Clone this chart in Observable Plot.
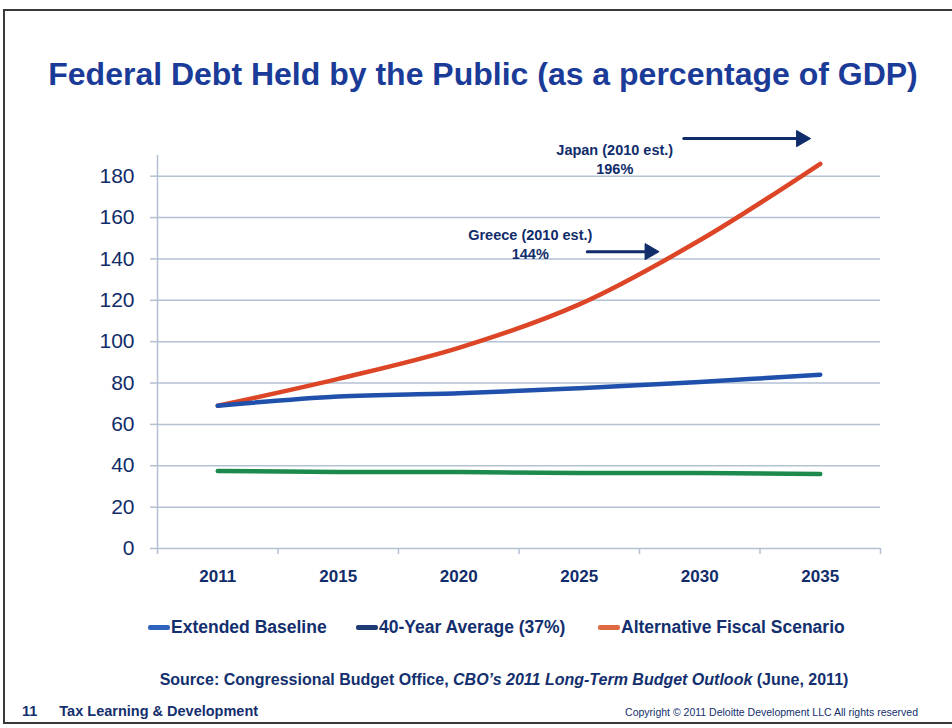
<!DOCTYPE html>
<html>
<head>
<meta charset="utf-8">
<script src="https://cdn.jsdelivr.net/npm/d3@7"></script>
<script src="https://cdn.jsdelivr.net/npm/@observablehq/plot@0.6"></script>
<style>
  body { margin: 0; background: #fff; font-family: "Liberation Sans", Arial, sans-serif; }
  #page { position: relative; width: 952px; height: 728px; overflow: hidden; background: #fff; }
  #frame { position: absolute; left: 3px; top: 9px; width: 990px; height: 711px; border: 2px solid #3a3a3a; border-right: none; }
  #title { position: absolute; top: 56px; left: 0; width: 966px; text-align: center; font-weight: bold; font-size: 32px; color: #1b3b98; white-space: nowrap; }
  #chart { position: absolute; top: 110px; left: 0; }
  #legend { position: absolute; top: 615px; left: 0; width: 952px; height: 24px; }
  .lg-item { position: absolute; top: 0; display: flex; align-items: center; height: 24px; font-weight: bold; font-size: 17.5px; color: #132f6e; white-space: nowrap; }
  .lg-sw { display: inline-block; width: 22px; height: 5px; border-radius: 2px; margin-right: 1px; }
  #source { position: absolute; top: 671px; left: 0; width: 1008px; text-align: center; font-weight: bold; font-size: 16px; color: #132f6e; white-space: nowrap; }
  #footer-left { position: absolute; top: 703px; left: 22px; font-weight: bold; font-size: 14.5px; color: #132f6e; white-space: nowrap; }
  #footer-left span { margin-right: 22px; }
  #footer-right { position: absolute; top: 706px; right: 34px; font-size: 10.5px; color: #132f6e; white-space: nowrap; }
</style>
</head>
<body>
<div id="page">
  <div id="frame"></div>
  <div id="title">Federal Debt Held by the Public (as a percentage of GDP)</div>
  <div id="chart"></div>
  <div id="legend"></div>
  <div id="source">Source: Congressional Budget Office, <i>CBO’s 2011 Long-Term Budget Outlook</i> (June, 2011)</div>
  <div id="footer-left"><span>11</span>Tax Learning &amp; Development</div>
  <div id="footer-right">Copyright © 2011 Deloitte Development LLC  All rights reserved</div>
</div>
<script>
// ---- data ----
const years = ["2011", "2015", "2020", "2025", "2030", "2035"];
const extendedBaseline = [69, 73.5, 75, 77.5, 80.5, 84];
const fortyYearAverage = [37.5, 37, 37, 36.5, 36.5, 36];
const alternativeFiscal = [69, 82, 97, 118, 149, 186];
const yTicks = [0, 20, 40, 60, 80, 100, 120, 140, 160, 180];
const seriesNames = ["Extended Baseline", "40-Year Average (37%)", "Alternative Fiscal Scenario"];
const legendColors = ["#2f63be", "#1d3a72", "#df6a42"];
const annotationLabels = ["Japan (2010 est.)", "Greece (2010 est.)"];
const annotationValues = [196, 144];

// ---- styles ----
const gridColor = "#b3c1d3";
const navy = "#102c6a";
const lineColors = { baseline: "#1f50ab", average: "#1c8a4c", alt: "#dc4526" };

const idx = (y) => years.indexOf(y);
const bounds = d3.range(years.length + 1).map(k => k - 0.5);

const annos = annotationLabels.map((l, k) => ({ label: `${l}\n${annotationValues[k]}%`, value: annotationValues[k] }));
const textStyle = { fill: navy, fontSize: 14.5, fontWeight: "bold", lineHeight: 1.32, textAnchor: "middle" };
const shaftStyle = { stroke: navy, strokeWidth: 3, headLength: 0 };
const headStyle = { symbol: "triangle", rotate: 90, r: 6, fill: navy, stroke: navy, strokeWidth: 1 };

const chart = Plot.plot({
  width: 952,
  height: 490,
  marginLeft: 157,
  marginRight: 72,
  marginTop: 45,
  marginBottom: 52,
  style: { fontFamily: "Liberation Sans, Arial, sans-serif", color: navy, background: "transparent" },
  x: { type: "linear", domain: [bounds[0], bounds[bounds.length - 1]] },
  y: { domain: [0, 190] },
  marks: [
    Plot.gridY(yTicks, { stroke: gridColor, strokeOpacity: 1, strokeWidth: 1.5 }),
    Plot.ruleX([bounds[0]], { y1: 0, y2: 190, stroke: gridColor, strokeWidth: 1.5 }),
    Plot.axisY(yTicks, { tickSize: 7, tickPadding: 16, stroke: gridColor, strokeWidth: 1.5, fill: navy, fontSize: 21, label: null }),
    Plot.axisX(bounds, { tickSize: 6, tickFormat: () => "", stroke: gridColor, strokeWidth: 1.5, label: null }),
    Plot.axisX(d3.range(years.length), { tickSize: 0, tickPadding: 21, tickFormat: i => years[i], fill: navy, fontSize: 17, fontWeight: "bold", label: null }),
    Plot.line(fortyYearAverage, { x: (d, i) => i, y: d => d, stroke: lineColors.average, strokeWidth: 4.5, strokeLinecap: "round" }),
    Plot.line(alternativeFiscal, { x: (d, i) => i, y: d => d, stroke: lineColors.alt, strokeWidth: 4.5, curve: "catmull-rom", strokeLinecap: "round" }),
    Plot.line(extendedBaseline, { x: (d, i) => i, y: d => d, stroke: lineColors.baseline, strokeWidth: 4.5, curve: "catmull-rom", strokeLinecap: "round" }),
    // annotations: Japan
    Plot.text([annos[0]], { x: idx("2030"), y: "value", text: "label", dx: -85, dy: 15, ...textStyle }),
    Plot.arrow([annos[0]], { x1: idx("2030"), x2: idx("2035"), y1: "value", y2: "value", dx: -16, dy: -4.5, insetEnd: 4, ...shaftStyle }),
    Plot.dot([annos[0]], { x: idx("2035"), y: "value", dx: -19, dy: -4.5, ...headStyle }),
    // annotations: Greece
    Plot.text([annos[1]], { x: idx("2025"), y: "value", text: "label", dx: -49, dy: -7, ...textStyle }),
    Plot.arrow([annos[1]], { x1: idx("2025"), x2: idx("2030"), y1: "value", y2: "value", dx: 8, dy: 1, insetEnd: 60, ...shaftStyle }),
    Plot.dot([annos[1]], { x: idx("2030"), y: "value", dx: -50, dy: 1, ...headStyle })
  ]
});
document.getElementById("chart").appendChild(chart);

// legend
const legendLefts = [148, 356, 598];
const legend = document.getElementById("legend");
seriesNames.forEach((name, k) => {
  const item = document.createElement("div");
  item.className = "lg-item";
  item.style.left = legendLefts[k] + "px";
  const sw = document.createElement("span");
  sw.className = "lg-sw";
  sw.style.background = legendColors[k];
  item.appendChild(sw);
  item.appendChild(document.createTextNode(name));
  legend.appendChild(item);
});
</script>
</body>
</html>
